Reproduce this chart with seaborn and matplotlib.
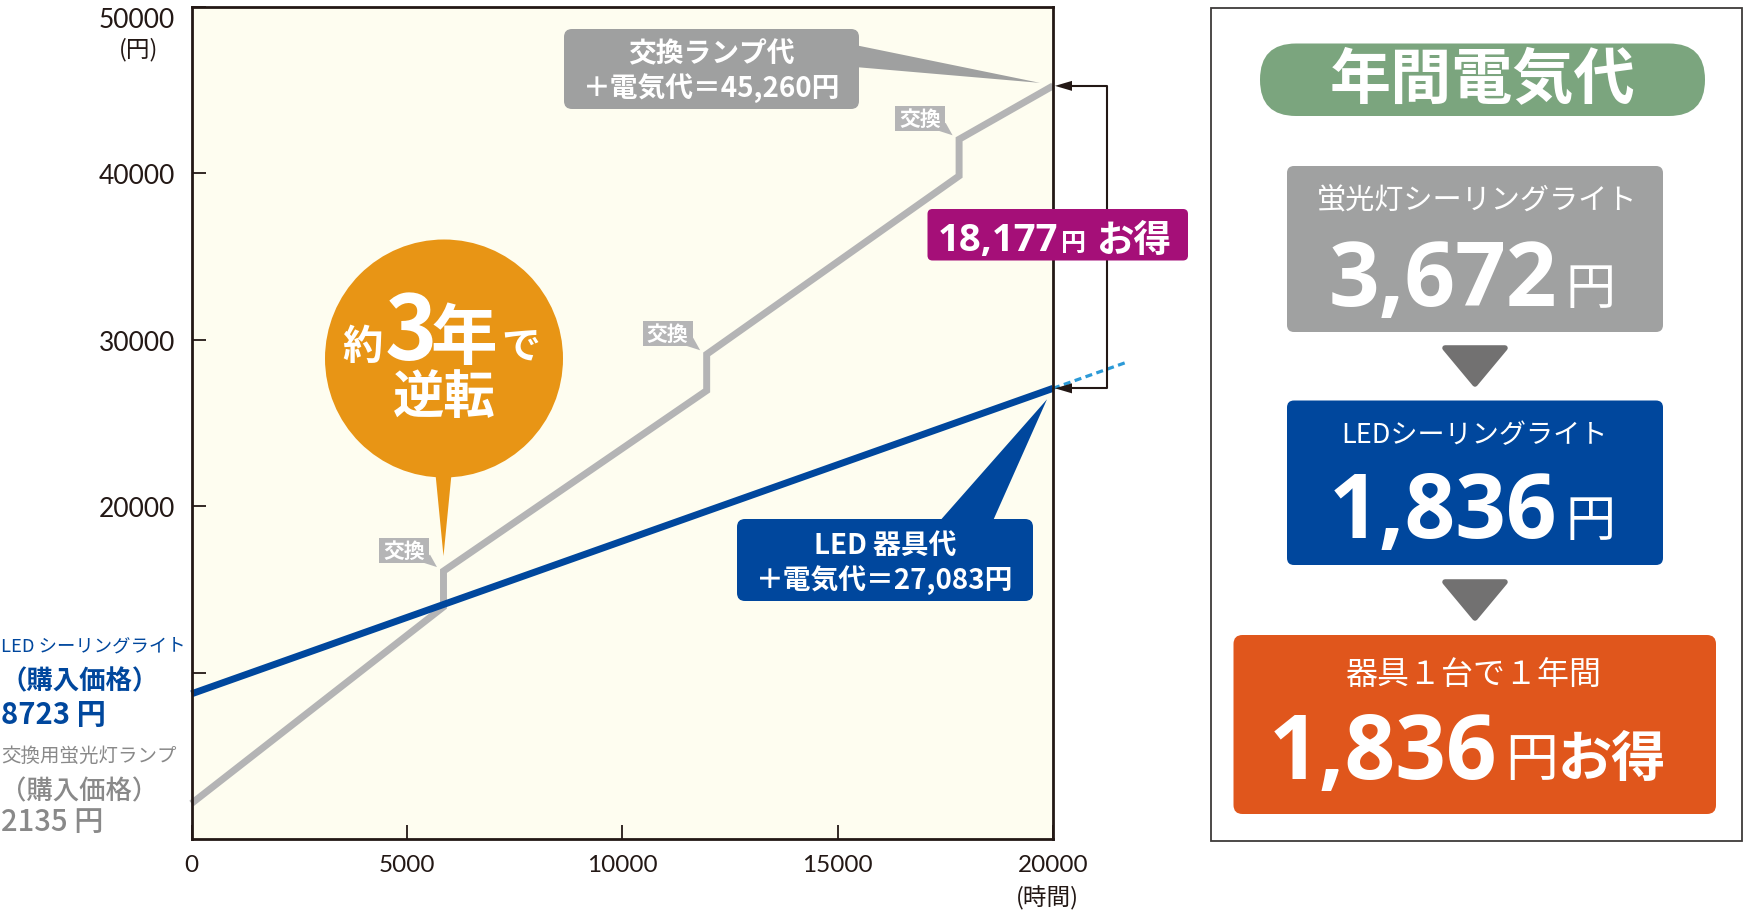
import numpy as np
import pandas as pd
import seaborn as sns
import matplotlib
matplotlib.use("Agg")
import matplotlib.pyplot as plt
import matplotlib.transforms as mtransforms
from matplotlib.patches import FancyBboxPatch, Polygon, Circle, Rectangle
from matplotlib.lines import Line2D

# Figure size in pixels
W, H = 1744, 912

# Data
led_hours = [0, 20000]
led_cost = [8723, 27083]
fl_hours = [0, 5850, 5850, 11960, 11960, 17820, 17820, 20000]
fl_cost = [2135, 13950, 16100, 26950, 29130, 39850, 42050, 45260]
ext_hours = [20000, 21680]
ext_cost = [27083, 28625]
swap_hours = [5850, 11960, 17820]
swap_cost = [16100, 29130, 42050]

x_ticks = [0, 5000, 10000, 15000, 20000]
x_labels = ["0", "5000", "10000", "15000", "20000"]
y_ticks = [10000, 20000, 30000, 40000, 50000]
y_labels = ["", "20000", "30000", "40000", "50000"]

fl_total = "45,260"
led_total = "27,083"
saving = "18,177"
fl_year = "3,672"
led_year = "1,836"
gain_year = "1,836"

# Colours
DARK = "#231815"
BG = "#FEFDF0"
GREY_LINE = "#B4B4B5"
BLUE = "#00479D"
LIGHT_BLUE = "#2C9AD7"
ORANGE = "#E89515"
PURPLE = "#A50F78"
CALLOUT_GREY = "#9FA0A0"
TAG_GREY = "#B5B5B6"
GREEN = "#7BA57E"
BOX_GREY = "#A0A1A1"
ARROW_GREY = "#727171"
BOX_ORANGE = "#E0561C"
LABEL_GREY = "#898989"

sns.set_style("ticks")
plt.rcParams["font.family"] = ["Noto Sans CJK JP", "DejaVu Sans"]
NUM_FONT = ["Open Sans", "Noto Sans CJK JP", "DejaVu Sans"]

fig = plt.figure(figsize=(W / 100, H / 100), dpi=100)
ax = fig.add_axes([191.5 / W, 1 - 840 / H, (1053 - 191.5) / W, 832 / H])
ax.set_facecolor(BG)

# pixel coordinates, y pointing down
pix = mtransforms.Affine2D().scale(1 / W, -1 / H).translate(0, 1) + fig.transFigure

# Lines
df_fl = pd.DataFrame({"hours": fl_hours, "cost": fl_cost})
sns.lineplot(data=df_fl, x="hours", y="cost", estimator=None, sort=False,
             color=GREY_LINE, lw=5, ax=ax, clip_on=False, zorder=3,
             solid_joinstyle="miter", solid_capstyle="butt")
df_led = pd.DataFrame({"hours": led_hours, "cost": led_cost})
sns.lineplot(data=df_led, x="hours", y="cost", estimator=None, sort=False,
             color=BLUE, lw=5, ax=ax, clip_on=False, zorder=4,
             solid_capstyle="butt")
df_ext = pd.DataFrame({"hours": ext_hours, "cost": ext_cost})
sns.lineplot(data=df_ext, x="hours", y="cost", estimator=None, sort=False,
             color=LIGHT_BLUE, lw=2.3, ax=ax, clip_on=False, zorder=4)
ax.lines[-1].set_linestyle((0, (2.2, 1.4)))

ax.set_xlim(0, 20000)
ax.set_ylim(0, 50000)
ax.set(xlabel="", ylabel="")
ax.set_xticks(x_ticks)
ax.set_xticklabels(x_labels)
ax.set_yticks(y_ticks)
ax.set_yticklabels(y_labels)
ax.tick_params(direction="in", length=10, width=1.3, colors=DARK)
ax.tick_params(axis="x", pad=11, labelsize=17.5)
ax.tick_params(axis="y", pad=12, labelsize=19)
ax.get_yticklabels()[-1].set_verticalalignment("top")
for lab in ax.get_xticklabels() + ax.get_yticklabels():
    lab.set_family(["Lato", "DejaVu Sans"])
    lab.set_color(DARK)
for sp in ax.spines.values():
    sp.set_color(DARK)
    sp.set_linewidth(2)
    sp.set_zorder(5)

fig.text(139, 50, "(円)", transform=pix, ha="center", va="center", fontsize=17, color=DARK)
fig.text(1047, 898, "(時間)", transform=pix, ha="center", va="center", fontsize=17, color=DARK)


def data_px(x, y):
    dx, dy = ax.transData.transform((x, y))
    return dx, H - dy


def rbox(x0, y0, x1, y1, color, r=8, z=6):
    p = FancyBboxPatch((x0 + r, y0 + r), x1 - x0 - 2 * r, y1 - y0 - 2 * r,
                       boxstyle=f"round,pad={r},rounding_size={r}",
                       fc=color, ec="none", transform=pix, zorder=z)
    fig.add_artist(p)


def poly(pts, color, z=6, **kw):
    fig.add_artist(Polygon(pts, closed=True, fc=color, ec=kw.pop("ec", "none"),
                           transform=pix, zorder=z, **kw))


def txt(x, y, s, **kw):
    kw.setdefault("color", "white")
    kw.setdefault("zorder", 8)
    fig.text(x, y, s, transform=pix, **kw)


# Left side labels
txt(1, 646, "LED シーリングライト", ha="left", va="center", fontsize=13.2, color=BLUE)
txt(0, 682, "（購入価格）", ha="left", va="center", fontsize=19, color=BLUE, weight="bold")
txt(1, 715, f"{led_cost[0]} 円", ha="left", va="center", fontsize=21, color=BLUE, weight="bold")
txt(1, 756, "交換用蛍光灯ランプ", ha="left", va="center", fontsize=14, color=LABEL_GREY)
txt(0, 792, "（購入価格）", ha="left", va="center", fontsize=19, color=LABEL_GREY, weight="medium")
txt(1, 823, f"{fl_cost[0]} 円", ha="left", va="center", fontsize=21, color=LABEL_GREY, weight="medium")

# End points in pixels
gx, gy = data_px(fl_hours[-1], fl_cost[-1])
bx, by = data_px(led_hours[-1], led_cost[-1])

# Grey callout
rbox(564, 30, 859, 110, CALLOUT_GREY, r=8)
poly([(855, 46), (855, 68), (gx - 13, gy - 3)], CALLOUT_GREY)
txt(711.5, 54, "交換ランプ代", ha="center", va="center", fontsize=20, weight="bold")
txt(711.5, 88, f"＋電気代＝{fl_total}円", ha="center", va="center", fontsize=20, weight="bold")

# Blue callout
rbox(737, 520, 1033, 602, BLUE, r=8)
poly([(938, 524), (992, 524), (bx - 6, by + 11)], BLUE)
txt(884.7, 546, "LED 器具代", ha="center", va="center", fontsize=20, weight="bold")
txt(884.7, 580, f"＋電気代＝{led_total}円", ha="center", va="center", fontsize=20, weight="bold")

# Bracket with arrows
xr = 1107
fig.add_artist(Line2D([gx + 18, xr, xr, bx + 18], [gy, gy, by, by], color=DARK, lw=1.5,
                      transform=pix, zorder=6))
for yy in (gy, by):
    poly([(gx + 2, yy), (gx + 19, yy - 5), (gx + 19, yy + 5)], DARK, z=7)

# Saving label
rbox(927.5, 210, 1188, 261.5, PURPLE, r=5, z=7)
txt(938, 251, saving, ha="left", va="baseline", fontsize=27.5, weight="bold", family=NUM_FONT)
txt(1061, 251, "円", ha="left", va="baseline", fontsize=18, weight="bold")
txt(1097, 252, "お得", ha="left", va="baseline", fontsize=27, weight="bold")

# Exchange tags
for hx, hy in zip(swap_hours, swap_cost):
    sx, sy = data_px(hx, hy)
    right, bottom = sx - 14, sy - 8.5
    fig.add_artist(Rectangle((right - 50, bottom - 25), 50, 25, fc=TAG_GREY, ec="none",
                             transform=pix, zorder=6))
    poly([(right - 8, bottom - 0.5), (right + 0.5, bottom - 8), (sx - 6.5, sy - 4)], TAG_GREY)
    txt(right - 25, bottom - 12.5, "交換", ha="center", va="center", fontsize=15, weight="bold")

# Orange bubble
s1x, s1y = data_px(swap_hours[0], swap_cost[0])
fig.add_artist(Circle((444, 359.5), 119, fc=ORANGE, ec="none", transform=pix, zorder=6))
poly([(435, 470), (452, 470), (s1x, s1y - 15)], ORANGE)
txt(342, 359, "約", ha="left", va="baseline", fontsize=29, weight="bold")
txt(385, 360, "3", ha="left", va="baseline", fontsize=64, weight="bold")
txt(431, 359, "年", ha="left", va="baseline", fontsize=48, weight="bold")
txt(501, 359, "で", ha="left", va="baseline", fontsize=28, weight="bold")
txt(444, 398, "逆転", ha="center", va="center", fontsize=37, weight="bold")

# Right panel
fig.add_artist(Rectangle((1210.5, 9), 531, 833, fc="white", ec="#3E3A39", lw=1.3,
                         transform=pix, zorder=1))
rbox(1260, 44.5, 1705, 117, GREEN, r=36)
txt(1482.6, 81, "年間電気代", ha="center", va="center", fontsize=44, weight="bold")

rbox(1287, 167, 1663, 333, BOX_GREY, r=7)
txt(1476.6, 202, "蛍光灯シーリングライト", ha="center", va="center", fontsize=21)
txt(1557, 306, fl_year, ha="right", va="baseline", fontsize=64, weight="bold", family=NUM_FONT)
txt(1565, 304, "円", ha="left", va="baseline", fontsize=36)

poly([(1445, 349), (1505, 349), (1475, 385)], ARROW_GREY, ec=ARROW_GREY, lw=4, joinstyle="round")

rbox(1287, 401.5, 1663, 566, BLUE, r=7)
txt(1474, 436, "LEDシーリングライト", ha="center", va="center", fontsize=19.5)
txt(1557, 538, led_year, ha="right", va="baseline", fontsize=64, weight="bold", family=NUM_FONT)
txt(1565, 536, "円", ha="left", va="baseline", fontsize=36)

poly([(1445, 583), (1505, 583), (1475, 619)], ARROW_GREY, ec=ARROW_GREY, lw=4, joinstyle="round")

rbox(1233.5, 636, 1716, 815, BOX_ORANGE, r=9)
txt(1473, 676, "器具１台で１年間", ha="center", va="center", fontsize=23)
txt(1497, 779, gain_year, ha="right", va="baseline", fontsize=64, weight="bold", family=NUM_FONT)
txt(1505, 776, "円", ha="left", va="baseline", fontsize=38)
txt(1558, 776, "お得", ha="left", va="baseline", fontsize=39, weight="bold")

fig.savefig("out.png", dpi=100)
